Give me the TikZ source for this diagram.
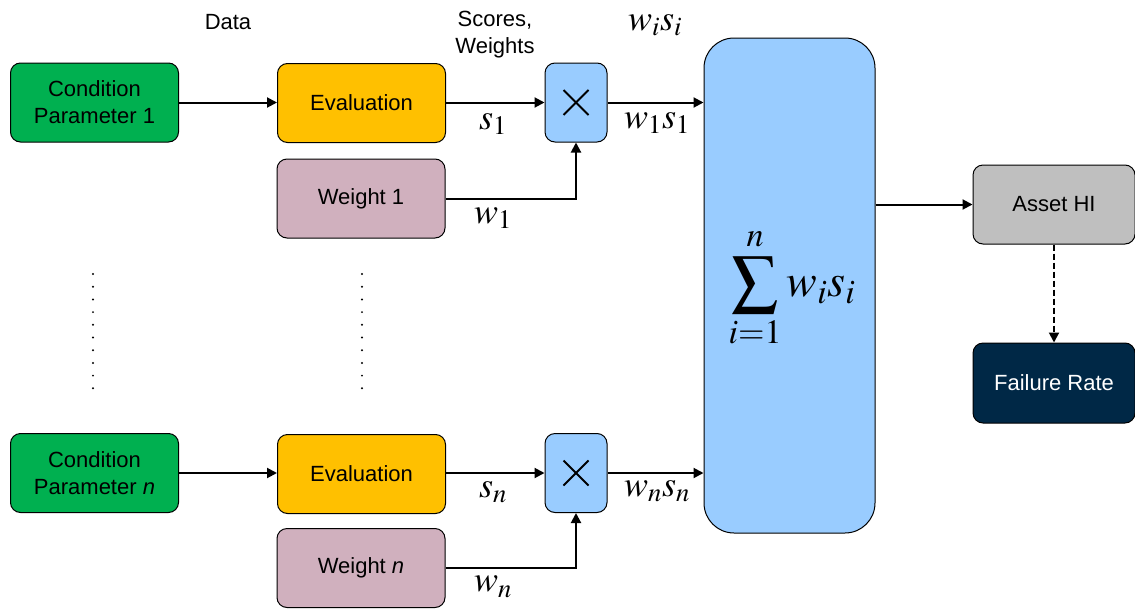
\documentclass[tikz,border=0pt]{standalone}
\usepackage{mathptmx}
\usepackage{fontspec}
\setmainfont{Liberation Sans}
\usetikzlibrary{arrows.meta}
\definecolor{cgreen}{HTML}{00B050}
\definecolor{corange}{HTML}{FFC000}
\definecolor{cmauve}{HTML}{D0B0BE}
\definecolor{cblue}{HTML}{99CCFF}
\definecolor{cgrey}{HTML}{BFBFBF}
\definecolor{cnavy}{HTML}{002846}
\tikzset{
  box/.style={draw=black, line width=1pt, rounded corners=10pt, minimum width=168pt, minimum height=79pt, align=center, inner sep=0pt, font=\fontsize{22}{27}\selectfont},
  multbox/.style={draw=black, line width=1pt, rounded corners=10pt, fill=cblue, minimum width=62pt, minimum height=79pt, inner sep=0pt},
  conn/.style={line width=2pt, -{Triangle[length=10pt,width=10pt]}},
  lbl/.style={font=\fontsize{22}{27}\selectfont, align=center, inner sep=0pt},
  mlbl/.style={font=\fontsize{36}{38}\selectfont, inner sep=0pt},
  crossline/.style={line width=2pt},
}
\begin{document}
\begin{tikzpicture}[x=1pt,y=-1pt]
\useasboundingbox (0,0) rectangle (1135,608);
% top row
\node[box, fill=cgreen] (c1) at (94.5,102.5) {Condition\\Parameter 1};
\node[box, fill=corange] (e1) at (361.5,103) {Evaluation};
\node[box, fill=cmauve] (w1) at (361,198.5) {Weight 1};
\node[multbox] (m1) at (576,102.5) {};
% bottom row
\node[box, fill=cgreen] (cn) at (94.5,473) {Condition\\Parameter \textit{n}};
\node[box, fill=corange] (en) at (361.5,474) {Evaluation};
\node[box, fill=cmauve] (wn) at (361,568) {Weight \textit{n}};
\node[multbox] (mn) at (576,473) {};
% crosses
\foreach \m in {m1,mn} {
  \draw[crossline] (\m.center) ++(-12.5,-12.5) -- ++(25,25);
  \draw[crossline] (\m.center) ++(12.5,-12.5) -- ++(-25,25);
}
% sum
\node[draw=black, line width=1pt, rounded corners=30pt, fill=cblue, minimum width=171pt, minimum height=495pt, inner sep=0pt] (sum) at (789.5,285.5) {};
\node[inner sep=0pt, font=\fontsize{46}{52}\selectfont] (sumtxt) at (792,288) {$\displaystyle\sum_{i=1}^{\rule[-5pt]{0pt}{0pt}n} w_i s_i$};
% right
\node[box, fill=cgrey, minimum width=162pt] (hi) at (1054,204.5) {Asset HI};
\node[box, fill=cnavy, text=white, minimum width=162pt, minimum height=80pt] (fr) at (1054,383) {Failure Rate};
% connectors
\draw[conn] (c1.east) -- (c1.east -| e1.west);
\draw[conn] (cn.east) -- (cn.east -| en.west);
\draw[conn] (e1.east |- m1.west) -- (m1.west);
\draw[conn] (en.east |- mn.west) -- (mn.west);
\draw[conn] (m1.east) -- (m1.east -| sum.west);
\draw[conn] (mn.east) -- (mn.east -| sum.west);
\draw[conn] (w1.east) -| (m1.south);
\draw[conn] (wn.east) -| (mn.south);
\draw[conn] (hi.west -| sum.east) -- (hi.west);
\draw[line width=2pt, dash pattern=on 6pt off 3pt, -{Triangle[length=10pt,width=10pt]}] (hi.south) -- (fr.north);
% labels
\node[lbl] (data) at (228,22) {Data};
\node[lbl] (sw) at (495,35) {Scores,\\Weights};
\node[mlbl] (wisi) at (655,25) {$w_i s_i$};
\node[mlbl] (s1) at (493,124) {$s_1$};
\node[mlbl] (w1s1) at (657,123) {$w_1 s_1$};
\node[mlbl] (w1l) at (493,218) {$w_1$};
\node[mlbl] (sn) at (493,492) {$s_n$};
\node[mlbl] (wnsn) at (657,491) {$w_n s_n$};
\node[mlbl] (wnl) at (493,587) {$w_n$};
% dots
\foreach \k in {0,...,9} {
  \fill (93,274+12.7*\k) circle (1.1pt);
  \fill (362,274+12.7*\k) circle (1.1pt);
}
\end{tikzpicture}
\end{document}
